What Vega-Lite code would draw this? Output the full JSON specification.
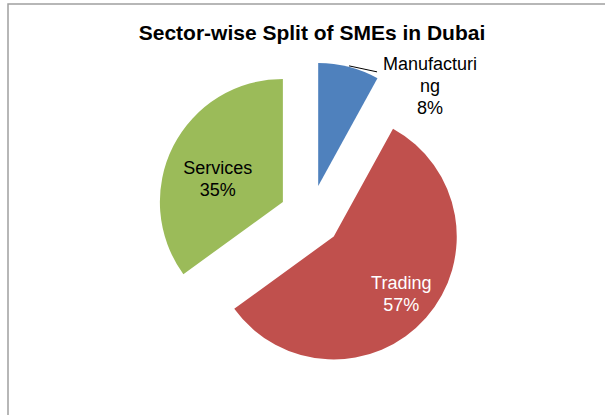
{
  "$schema": "https://vega.github.io/schema/vega-lite/v6.json",
  "width": 605,
  "height": 424,
  "autosize": {"type": "none"},
  "padding": {"left": 8, "top": 4, "right": -8, "bottom": -13},
  "background": "white",
  "view": {"stroke": "#a0a0a0", "strokeWidth": 1.5, "fill": "white"},
  "config": {
    "view": {"stroke": "#a0a0a0", "strokeWidth": 1.5},
    "font": "Liberation Sans"
  },
  "title": {
    "text": "Sector-wise Split of SMEs in Dubai",
    "font": "Liberation Sans",
    "fontSize": 21,
    "fontWeight": "bold",
    "color": "#000000",
    "anchor": "middle",
    "baseline": "alphabetic",
    "offset": -57,
    "dx": 1.5
  },
  "data": {
    "values": [
      {"sector": "Manufacturing", "share": 8},
      {"sector": "Trading", "share": 57},
      {"sector": "Services", "share": 35}
    ]
  },
  "transform": [
    {"window": [{"op": "row_number", "as": "rank"}, {"op": "sum", "field": "share", "as": "cum"}], "frame": [null, 0]},
    {"joinaggregate": [{"op": "sum", "field": "share", "as": "total"}]},
    {"calculate": "2*PI*(datum.cum - datum.share/2)/datum.total", "as": "mid"},
    {"calculate": "datum.sector == 'Manufacturing' ? ['Manufacturi', 'ng', datum.share + '%'] : [datum.sector, datum.share + '%']", "as": "label"}
  ],
  "layer": [
    {
      "mark": {
        "type": "arc",
        "outerRadius": 123,
        "xOffset": {"expr": "31*sin(datum.mid)"},
        "yOffset": {"expr": "-31*cos(datum.mid)"}
      },
      "encoding": {
        "theta": {"field": "share", "type": "quantitative", "stack": true},
        "order": {"field": "rank", "type": "quantitative"},
        "color": {
          "field": "sector",
          "type": "nominal",
          "scale": {"domain": ["Manufacturing", "Trading", "Services"], "range": ["#4F81BD", "#C0504D", "#9BBB59"]},
          "legend": null
        }
      }
    },
    {
      "transform": [{"filter": "datum.sector == 'Manufacturing'"}],
      "mark": {"type": "rule", "color": "#000000", "strokeWidth": 1},
      "encoding": {
        "x": {"value": {"expr": "width/2 + 155*sin(datum.mid)"}},
        "y": {"value": {"expr": "height/2 - 155*cos(datum.mid)"}},
        "x2": {"value": {"expr": "width/2 + 155*sin(datum.mid) + 28"}},
        "y2": {"value": {"expr": "height/2 - 155*cos(datum.mid) + 6"}}
      }
    },
    {
      "mark": {
        "type": "text",
        "x": {"expr": "width/2"},
        "y": {"expr": "height/2"},
        "theta": {"expr": "datum.mid"},
        "radius": {"expr": "datum.sector == 'Trading' ? 90 : datum.sector == 'Services' ? 73 : 140"},
        "xOffset": {"expr": "31*sin(datum.mid)"},
        "yOffset": {"expr": "-31*cos(datum.mid)"},
        "dx": {"expr": "datum.sector == 'Manufacturing' ? 77 : 0"},
        "dy": {"expr": "datum.sector == 'Manufacturing' ? 15 : datum.sector == 'Trading' ? -12 : 0"},
        "fill": {"expr": "datum.sector == 'Trading' ? '#ffffff' : '#000000'"},
        "font": "Liberation Sans",
        "fontSize": 18,
        "lineHeight": 22,
        "align": "center",
        "baseline": "middle"
      },
      "encoding": {
        "text": {"field": "label"}
      }
    }
  ]
}
